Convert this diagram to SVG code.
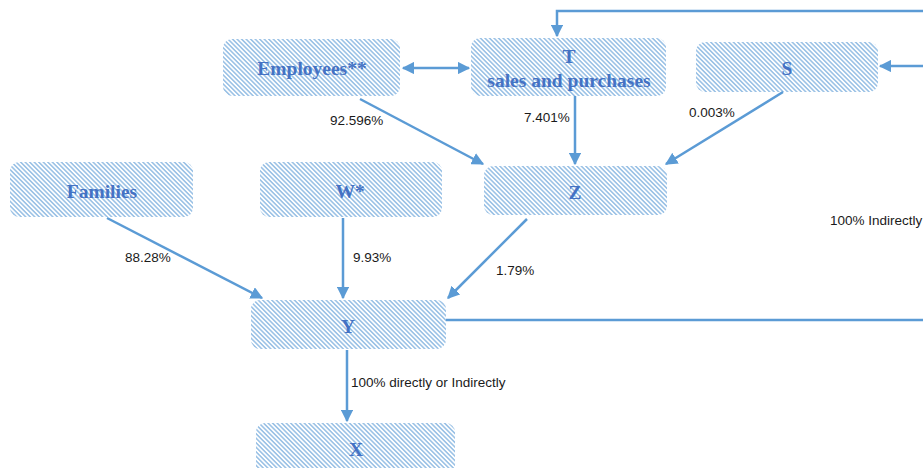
<svg xmlns="http://www.w3.org/2000/svg" width="923" height="468" viewBox="0 0 923 468">
  <defs>
    <!-- diagonal hatching used as node fill -->
    <pattern id="hatch" patternUnits="userSpaceOnUse" width="3.2" height="3.2" patternTransform="rotate(45)">
      <rect width="3.2" height="3.2" fill="#ffffff"/>
      <rect width="3.2" height="1.6" fill="#9dc3e6"/>
    </pattern>
    <marker id="arr" viewBox="0 0 10 10" refX="9" refY="5" markerWidth="5" markerHeight="5" orient="auto-start-reverse" markerUnits="strokeWidth">
      <path d="M0,0 L10,5 L0,10 z" fill="#5b9bd5"/>
    </marker>
  </defs>
  <style>
    .node { fill: url(#hatch); stroke: none; }
    .ntext { font-family: "Liberation Serif", "Times New Roman", serif; font-weight: bold; font-size: 19.5px; fill: #4472c4; text-anchor: middle; }
    .edge { stroke: #5b9bd5; stroke-width: 2.5; fill: none; }
    .lbl { font-family: "Liberation Sans", Arial, sans-serif; font-size: 13.5px; fill: #1a1a1a; }
  </style>

  <rect width="923" height="468" fill="#ffffff"/>

  <g id="employees">
    <rect class="node" x="223" y="39" width="177" height="57" rx="9"/>
    <text class="ntext" x="312" y="75">Employees**</text>
  </g>
  <g id="t">
    <rect class="node" x="471" y="38" width="195" height="58" rx="9"/>
    <text class="ntext" x="569" y="63">T</text>
    <text class="ntext" x="569" y="87">sales and purchases</text>
  </g>
  <g id="s">
    <rect class="node" x="696" y="42" width="182" height="50" rx="9"/>
    <text class="ntext" x="787" y="75">S</text>
  </g>
  <g id="families">
    <rect class="node" x="10" y="162" width="183" height="55" rx="9"/>
    <text class="ntext" x="102" y="198">Families</text>
  </g>
  <g id="w">
    <rect class="node" x="260" y="162" width="182" height="55" rx="9"/>
    <text class="ntext" x="350" y="198">W*</text>
  </g>
  <g id="z">
    <rect class="node" x="484" y="166" width="183" height="49" rx="9"/>
    <text class="ntext" x="575" y="199">Z</text>
  </g>
  <g id="y">
    <rect class="node" x="251" y="300" width="195" height="49" rx="9"/>
    <text class="ntext" x="348" y="333">Y</text>
  </g>
  <g id="x">
    <rect class="node" x="256" y="423" width="199" height="52" rx="9"/>
    <text class="ntext" x="356" y="456">X</text>
  </g>

  <g id="connectors">
    <line class="edge" x1="403" y1="68" x2="469" y2="68" marker-start="url(#arr)" marker-end="url(#arr)"/>
    <line class="edge" x1="360" y1="99" x2="483" y2="164" marker-end="url(#arr)"/>
    <line class="edge" x1="575" y1="96" x2="575" y2="164" marker-end="url(#arr)"/>
    <line class="edge" x1="783" y1="92" x2="666" y2="164" marker-end="url(#arr)"/>
    <polyline class="edge" points="923,11 557,11 557,36" marker-end="url(#arr)"/>
    <line class="edge" x1="923" y1="66" x2="880" y2="66" marker-end="url(#arr)"/>
    <line class="edge" x1="107" y1="218" x2="262" y2="298" marker-end="url(#arr)"/>
    <line class="edge" x1="343" y1="218" x2="343" y2="298" marker-end="url(#arr)"/>
    <line class="edge" x1="527" y1="219" x2="448" y2="298" marker-end="url(#arr)"/>
    <line class="edge" x1="446" y1="320" x2="923" y2="320"/>
    <line class="edge" x1="347" y1="350" x2="347" y2="421" marker-end="url(#arr)"/>
  </g>

  <g id="labels">
    <text class="lbl" x="330" y="125">92.596%</text>
    <text class="lbl" x="524" y="122">7.401%</text>
    <text class="lbl" x="689" y="117">0.003%</text>
    <text class="lbl" x="125" y="262">88.28%</text>
    <text class="lbl" x="353" y="262">9.93%</text>
    <text class="lbl" x="496" y="275">1.79%</text>
    <text class="lbl" x="830" y="225">100% Indirectly</text>
    <text class="lbl" x="351" y="387">100% directly or Indirectly</text>
  </g>
</svg>
